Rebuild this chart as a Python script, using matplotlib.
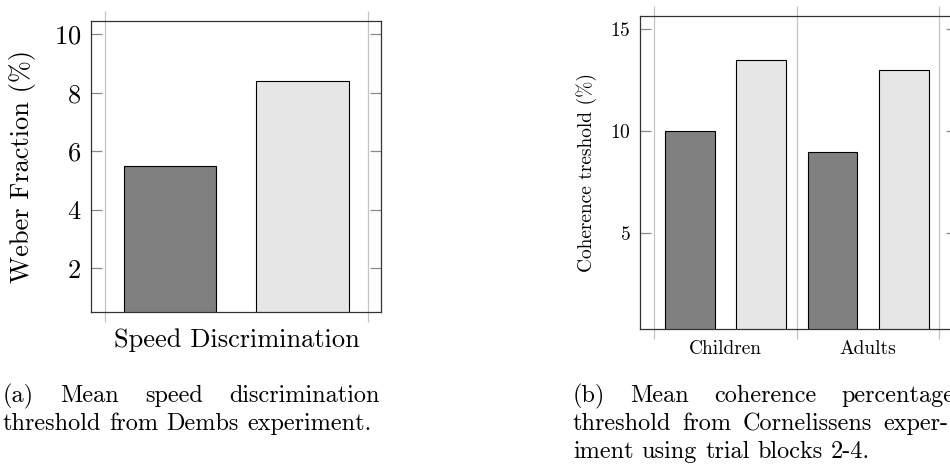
import matplotlib
matplotlib.use("Agg")
import matplotlib.pyplot as plt
from matplotlib.ticker import FixedLocator, NullFormatter, FixedFormatter

plt.rcParams["font.family"] = ["cmr10", "DejaVu Serif"]
plt.rcParams["axes.formatter.use_mathtext"] = True

# panel (a): Dembs experiment
dembs_group = ["Speed Discrimination"]
dembs_values = [5.5, 8.4]
dembs_yticks = [2, 4, 6, 8, 10]

# panel (b): Cornelissen experiment
corn_groups = ["Children", "Adults"]
corn_dark = [10.0, 9.0]
corn_light = [13.5, 13.0]
corn_yticks = [5, 10, 15]

caption_a = ["(a) Mean speed discrimination", "threshold from Dembs experiment."]
caption_b = ["(b) Mean coherence percentage", "threshold from Cornelissens exper-",
             "iment using trial blocks 2-4."]

DARK = "#808080"
LIGHT = "#e6e6e6"
GRID = "#c4c4c4"
TICK = "#8a8a8a"
SPINE = "#333333"

W, H = 950, 465
fig = plt.figure(figsize=(W / 100, H / 100), dpi=100)


def style_axes(ax, n_groups, fs, pad):
    bounds = [i - 0.5 for i in range(n_groups + 1)]
    ax.xaxis.set_major_locator(FixedLocator(bounds))
    ax.xaxis.set_major_formatter(NullFormatter())
    ax.tick_params(axis="x", which="major", direction="out", length=7.5,
                   width=0.9, color=GRID, top=True, bottom=True)
    ax.tick_params(axis="x", which="minor", length=0, labelsize=fs, pad=pad)
    ax.grid(axis="x", which="major", color=GRID, linewidth=0.9)
    ax.set_axisbelow(True)
    ax.tick_params(axis="y", direction="in", length=8, width=0.9, color=TICK,
                   left=True, right=True, labelsize=fs, pad=7)
    for s in ax.spines.values():
        s.set_color(SPINE)
        s.set_linewidth(0.9)


# ---- panel (a)
ax1 = fig.add_axes([90.7 / W, 1 - 312 / H, 290.3 / W, 291.3 / H])
ax1.bar([-0.252, 0.252], dembs_values, width=0.352, color=[DARK, LIGHT],
        edgecolor="black", linewidth=0.8)
ax1.set_xlim(-0.553, 0.549)
ax1.set_ylim(0.5, 10.47)
ax1.set_yticks(dembs_yticks)
style_axes(ax1, 1, 19, 12)
ax1.xaxis.set_minor_locator(FixedLocator([0]))
ax1.xaxis.set_minor_formatter(FixedFormatter(dembs_group))
ax1.set_ylabel("Weber Fraction (%)", fontsize=19)
ax1.yaxis.set_label_coords(-0.19, 0.5)

# ---- panel (b)
ax2 = fig.add_axes([640 / W, 1 - 329 / H, 317 / W, 313.3 / H])
xs = list(range(len(corn_groups)))
ax2.bar([x - 0.25 for x in xs], corn_dark, width=0.349, color=DARK,
        edgecolor="black", linewidth=0.8)
ax2.bar([x + 0.25 for x in xs], corn_light, width=0.349, color=LIGHT,
        edgecolor="black", linewidth=0.8)
ax2.set_xlim(-0.6, 1.624)
ax2.set_ylim(0.3, 15.67)
ax2.set_yticks(corn_yticks)
style_axes(ax2, len(corn_groups), 14, 8)
ax2.xaxis.set_minor_locator(FixedLocator(xs))
ax2.xaxis.set_minor_formatter(FixedFormatter(corn_groups))
ax2.set_ylabel("Coherence treshold (%)", fontsize=14)
ax2.yaxis.set_label_coords(-0.135, 0.5)


# ---- captions, justified like the LaTeX subcaptions
def caption(lines, x0, rights, y0, step, fs=17.5):
    renderer = fig.canvas.get_renderer()
    for i, line in enumerate(lines):
        y = 1 - (y0 + i * step) / H
        last = i == len(lines) - 1
        words = line.split(" ")
        texts = [fig.text(0, y, w, fontsize=fs, va="baseline", ha="left")
                 for w in words]
        widths = [t.get_window_extent(renderer).width for t in texts]
        if last or len(words) == 1:
            gap = fs * 0.333 * 100 / 72
        else:
            gap = (rights[i] - x0 - sum(widths)) / (len(words) - 1)
        x = x0
        for t, w in zip(texts, widths):
            t.set_x(x / W)
            x += w + gap


caption(caption_a, 3, [380, 380], 402, 28)
caption(caption_b, 573, [954, 948, 948], 402, 28)

fig.savefig("out.png", dpi=100)
